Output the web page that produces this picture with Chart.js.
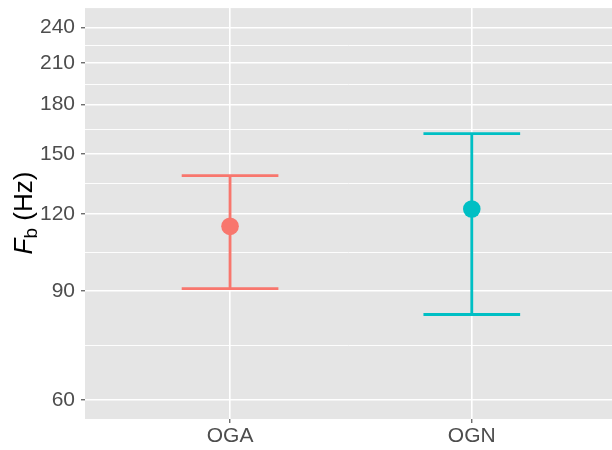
<!DOCTYPE html>
<html>
<head>
<meta charset="utf-8">
<script src="https://cdn.jsdelivr.net/npm/chart.js@4.4.1/dist/chart.umd.min.js"></script>
<style>
  html, body { margin: 0; padding: 0; background: #ffffff; }
  #wrap { width: 612px; height: 450px; }
</style>
</head>
<body>
<div id="wrap"><canvas id="chart" width="612" height="450"></canvas></div>
<script>
// Groups and their summary values (Hz)
const groups = ['OGA', 'OGN'];
const means = [114.5, 122.1];
const lowers = [90.8, 82.5];
const uppers = [138.3, 161.7];
const colors = ['#F8766D', '#00BFC4'];

// Axis breaks
const yMajorTicks = [60, 90, 120, 150, 180, 210, 240];
const yMinorTicks = [73.5, 103.9, 134.2, 164.3, 194.4, 224.5];

const CAP_HALF = 0.2;

// One line dataset per group: top cap, stem, bottom cap (gaps split them)
const errorDatasets = groups.map((g, i) => {
  const c = i + 1;
  return {
    type: 'scatter',
    label: g + ' range',
    data: [
      { x: c - CAP_HALF, y: uppers[i] }, { x: c + CAP_HALF, y: uppers[i] },
      { x: c, y: null },
      { x: c, y: uppers[i] }, { x: c, y: lowers[i] },
      { x: c, y: null },
      { x: c - CAP_HALF, y: lowers[i] }, { x: c + CAP_HALF, y: lowers[i] }
    ],
    showLine: true,
    spanGaps: false,
    borderColor: colors[i],
    borderWidth: 2.8,
    borderCapStyle: 'butt',
    pointRadius: 0,
    pointHoverRadius: 0,
    order: 2
  };
});

const pointDatasets = groups.map((g, i) => ({
  type: 'scatter',
  label: g,
  data: [{ x: i + 1, y: means[i] }],
  backgroundColor: colors[i],
  borderColor: colors[i],
  borderWidth: 0,
  pointRadius: 8.8,
  pointHoverRadius: 8.8,
  order: 1
}));

const panelBackground = {
  id: 'panelBackground',
  beforeDraw(chart) {
    const { ctx, chartArea: a } = chart;
    ctx.save();
    ctx.fillStyle = '#E5E5E5';
    ctx.fillRect(a.left, a.top, a.right - a.left, a.bottom - a.top);
    ctx.restore();
  }
};

// Rotated y title: italic F with subscript b, then (Hz)
const yTitle = {
  id: 'yTitle',
  afterDraw(chart) {
    const { ctx } = chart;
    const mainFont = '26px "Liberation Sans", Arial, sans-serif';
    const italicFont = 'italic 26px "Liberation Sans", Arial, sans-serif';
    const subFont = '19px "Liberation Sans", Arial, sans-serif';
    const parts = [
      { text: 'F', font: italicFont, dy: 0 },
      { text: 'b', font: subFont, dy: 5 },
      { text: ' (Hz)', font: mainFont, dy: 0 }
    ];
    let total = 0;
    parts.forEach(p => { ctx.font = p.font; p.w = ctx.measureText(p.text).width; total += p.w; });
    ctx.save();
    ctx.translate(31.5, 213);
    ctx.rotate(-Math.PI / 2);
    ctx.fillStyle = '#000000';
    ctx.textBaseline = 'alphabetic';
    ctx.textAlign = 'left';
    let x = -total / 2;
    parts.forEach(p => {
      ctx.font = p.font;
      ctx.fillText(p.text, x, p.dy);
      x += p.w;
    });
    ctx.restore();
  }
};

new Chart(document.getElementById('chart'), {
  type: 'scatter',
  data: { datasets: [...errorDatasets, ...pointDatasets] },
  options: {
    responsive: false,
    animation: false,
    devicePixelRatio: 1,
    layout: { autoPadding: false, padding: { top: 3.9, right: 0, left: 0, bottom: 0 } },
    plugins: {
      legend: { display: false },
      tooltip: { enabled: false }
    },
    scales: {
      x: {
        type: 'linear',
        min: 0.4,
        max: 2.58,
        afterBuildTicks(scale) {
          scale.ticks = groups.map((g, i) => ({ value: i + 1 }));
        },
        afterFit(scale) { scale.height = 31; },
        ticks: {
          autoSkip: false,
          padding: 1,
          color: '#4D4D4D',
          font: { family: '"Liberation Sans", Arial, sans-serif', size: 21 },
          callback: (v) => groups[Math.round(v) - 1] || ''
        },
        grid: {
          color: '#FFFFFF',
          lineWidth: 1.6,
          tickLength: 4,
          tickColor: '#333333',
          tickWidth: 1
        },
        border: { display: false }
      },
      y: {
        type: 'logarithmic',
        min: 55.93,
        max: 257.8,
        afterBuildTicks(scale) {
          const t = yMajorTicks.map(v => ({ value: v, minor: false }))
            .concat(yMinorTicks.map(v => ({ value: v, minor: true })));
          t.sort((a, b) => a.value - b.value);
          scale.ticks = t;
        },
        afterFit(scale) { scale.width = 85; },
        ticks: {
          autoSkip: false,
          padding: 6,
          color: '#4D4D4D',
          font: { family: '"Liberation Sans", Arial, sans-serif', size: 21, lineHeight: 0.2 },
          callback: (v, i, ticks) => (ticks[i] && ticks[i].minor) ? '' : String(v)
        },
        grid: {
          color: '#FFFFFF',
          lineWidth: (ctx) => (ctx.tick && ctx.tick.minor) ? 0.9 : 1.6,
          tickLength: 4,
          tickColor: (ctx) => (ctx.tick && ctx.tick.minor) ? 'rgba(0,0,0,0)' : '#333333',
          tickWidth: 1
        },
        border: { display: false }
      }
    }
  },
  plugins: [panelBackground, yTitle]
});
</script>
</body>
</html>
